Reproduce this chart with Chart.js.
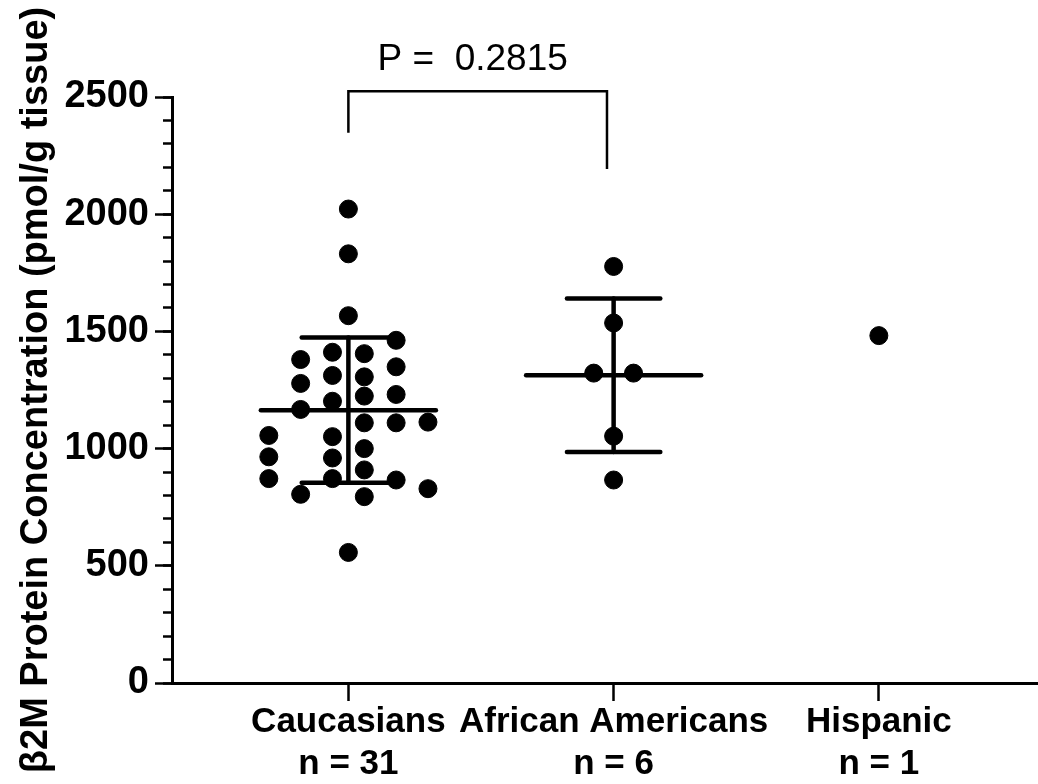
<!DOCTYPE html>
<html>
<head>
<meta charset="utf-8">
<script src="https://cdn.jsdelivr.net/npm/chart.js@4/dist/chart.umd.min.js"></script>
<style>
  html, body { margin: 0; padding: 0; background: #fff; }
  #chart { display: block; }
</style>
</head>
<body>
<canvas id="chart" width="1038" height="784"></canvas>
<script>
// groups on the x axis
const categories = ['Caucasians', 'African Americans', 'Hispanic'];
const counts = [31, 6, 1];

// values (pmol/g tissue) and their column offset inside the group (in half-columns)
const caucasianValues = [2022, 1831, 1567, 1462, 1380, 1411, 1405, 1349, 1278, 1312, 1306,
  1231, 1202, 1224, 1167, 1110, 1110, 1113, 1056, 1051, 965, 960, 1000, 909, 872, 872,
  866, 805, 795, 829, 557];
const caucasianJitter = [0, 0, 0, 3, -3, -1, 1, 3, -3, -1, 1,
  3, -1, 1, -3, 1, 3, 5, -5, -1, -5, -1, 1, 1, -5, -1,
  3, -3, 1, 5, 0];
const africanAmericanValues = [1777, 1536, 1322, 1322, 1053, 866];
const africanAmericanJitter = [0, 0, -1.25, 1.25, 0, 0];
const hispanicValues = [1482];
const hispanicJitter = [0];

// mean and SD for the error bars (Caucasians, African Americans)
const groupMeans = [1164, 1313];
const groupSD = [310, 327];

// y axis
const yMin = 0;
const yMax = 2500;
const yMajorStep = 500;
const yMinorStep = 100;

// comparison bracket
const pText = 'P =  0.2815';
const bracketGroups = [0, 1];
const bracketTop = 2525;
const bracketEnds = [2347, 2193];

const COLUMN_STEP = 0.06;
const FONT = '"Liberation Sans", Arial, sans-serif';

function pointsFor(groupIndex, values, jitter) {
  return values.map((v, i) => ({ x: groupIndex + 1 + jitter[i] * COLUMN_STEP, y: v }));
}

function lineSet(data) {
  return {
    type: 'line',
    data: data,
    showLine: true,
    borderColor: '#000',
    borderWidth: 4.5,
    borderCapStyle: 'round',
    pointRadius: 0,
    fill: false,
  };
}

const datasets = [];
[caucasianValues, africanAmericanValues, hispanicValues].forEach((values, g) => {
  const jitter = [caucasianJitter, africanAmericanJitter, hispanicJitter][g];
  datasets.push({
    type: 'scatter',
    data: pointsFor(g, values, jitter),
    backgroundColor: '#000',
    borderColor: '#000',
    borderWidth: 1,
    pointRadius: 9,
  });
});

// error bars: mean line, SD whisker and caps
groupMeans.forEach((m, g) => {
  const cx = g + 1;
  const sd = groupSD[g];
  datasets.push(lineSet([{ x: cx - 0.33, y: m }, { x: cx + 0.33, y: m }]));
  datasets.push(lineSet([{ x: cx, y: m - sd }, { x: cx, y: m + sd }]));
  datasets.push(lineSet([{ x: cx - 0.176, y: m + sd }, { x: cx + 0.176, y: m + sd }]));
  datasets.push(lineSet([{ x: cx - 0.176, y: m - sd }, { x: cx + 0.176, y: m - sd }]));
});

// bracket with the p value
const bracketPlugin = {
  id: 'bracket',
  afterDatasetsDraw(chart) {
    const ctx = chart.ctx;
    const x = chart.scales.x;
    const y = chart.scales.y;
    const x1 = x.getPixelForValue(bracketGroups[0] + 1);
    const x2 = x.getPixelForValue(bracketGroups[1] + 1 - 0.025);
    const yTop = y.getPixelForValue(bracketTop);
    ctx.save();
    ctx.strokeStyle = '#000';
    ctx.lineWidth = 2.5;
    ctx.beginPath();
    ctx.moveTo(x1, y.getPixelForValue(bracketEnds[0]));
    ctx.lineTo(x1, yTop);
    ctx.lineTo(x2, yTop);
    ctx.lineTo(x2, y.getPixelForValue(bracketEnds[1]));
    ctx.stroke();
    ctx.fillStyle = '#000';
    ctx.font = '37px ' + FONT;
    ctx.textAlign = 'center';
    ctx.textBaseline = 'middle';
    ctx.fillText(pText, (x1 + x2) / 2 - 5, yTop - 31);
    ctx.restore();
  }
};

new Chart(document.getElementById('chart'), {
  type: 'scatter',
  data: { datasets: datasets },
  plugins: [bracketPlugin],
  options: {
    responsive: false,
    animation: false,
    layout: { autoPadding: false, padding: { top: 97, right: 0, left: 0, bottom: 0 } },
    plugins: {
      legend: { display: false },
      tooltip: { enabled: false },
    },
    scales: {
      x: {
        type: 'linear',
        min: 0.335,
        max: 3.6,
        afterBuildTicks: (scale) => {
          scale.ticks = categories.map((c, i) => ({ value: i + 1 }));
        },
        afterFit: (scale) => {
          scale.height = 101;
          scale.paddingLeft = 0;
          scale.paddingRight = 0;
        },
        border: { display: true, color: '#000', width: 3 },
        grid: { drawOnChartArea: false, drawTicks: true, tickLength: 18, tickWidth: 2.5, tickColor: '#000' },
        ticks: {
          autoSkip: false,
          maxRotation: 0,
          padding: 0,
          color: '#000',
          font: { family: FONT, size: 35, weight: 'bold', lineHeight: 1.2 },
          callback: (v) => [categories[Math.round(v) - 1], 'n = ' + counts[Math.round(v) - 1]],
        },
      },
      y: {
        min: yMin,
        max: yMax,
        weight: 1,
        afterFit: (scale) => { scale.width = 172; },
        border: { display: true, color: '#000', width: 3 },
        grid: { drawOnChartArea: false, drawTicks: true, tickLength: 17, tickWidth: 2.5, tickColor: '#000' },
        ticks: {
          stepSize: yMajorStep,
          padding: 6,
          color: '#000',
          font: { family: FONT, size: 38, weight: 'bold' },
          callback: (v) => String(v),
        },
        title: {
          display: true,
          text: 'β2M Protein Concentration (pmol/g tissue)',
          color: '#000',
          padding: { top: 14, bottom: 0 },
          font: { family: FONT, size: 38, weight: 'bold' },
        },
      },
      yMinor: {
        type: 'linear',
        position: 'left',
        min: yMin,
        max: yMax,
        weight: 0,
        afterFit: (scale) => { scale.width = 0; },
        border: { display: false },
        grid: { drawOnChartArea: false, drawTicks: true, tickLength: 9, tickWidth: 2.5, tickColor: '#000' },
        ticks: { stepSize: yMinorStep, display: false },
      },
    },
  },
});
</script>
</body>
</html>
